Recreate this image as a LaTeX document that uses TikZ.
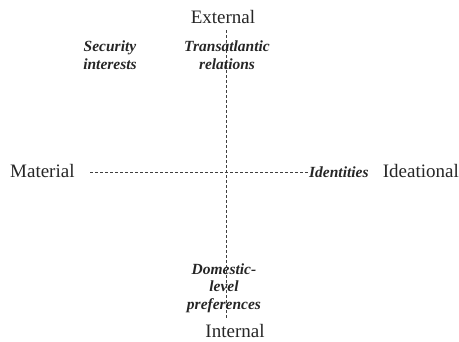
\documentclass[tikz,border=0pt]{standalone}
\usepackage{fontspec}
\setmainfont{Liberation Serif}
\begin{document}
\begin{tikzpicture}[x=1pt,y=-1pt,
  axislabel/.style={font=\fontsize{19}{22}\selectfont, text=black!85, inner sep=0pt, anchor=base},
  item/.style={font=\fontsize{15.5}{17.5}\selectfont\bfseries\itshape, text=black!85, inner sep=0pt, anchor=base, align=center},
  axis/.style={dash pattern=on 3pt off 2pt, line width=0.7pt, draw=black!75}]
\useasboundingbox (0,0) rectangle (459,341);
\coordinate (vtop) at (226,30);
\coordinate (vbot) at (226,318);
\coordinate (hleft) at (90,172);
\coordinate (hright) at (309,172);
\draw[axis] (vtop) -- (vbot);
\draw[axis] (hleft) -- (hright);
\node[axislabel] (ext) at (223,23.3) {External};
\node[axislabel] (int) at (235,337) {Internal};
\node[axislabel, anchor=base west] (mat) at (10,177.3) {Material};
\node[axislabel, anchor=base east] (idea) at (459,177.3) {Ideational};
\node[item] (sec) at (110,69) {Security\\interests};
\node[item] (trans) at (227,69) {Transatlantic\\relations};
\node[item, anchor=base west] (iden) at (309,177.3) {Identities};
\node[item] (dom) at (224,309) {Domestic-\\level\\preferences};
\end{tikzpicture}
\end{document}
